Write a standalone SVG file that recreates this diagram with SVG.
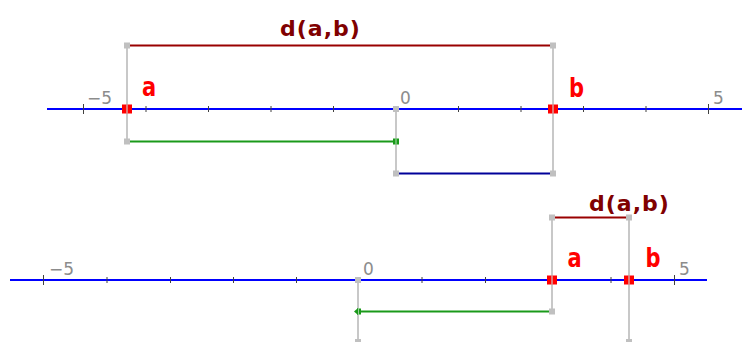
<svg xmlns="http://www.w3.org/2000/svg" width="742" height="342" viewBox="0 0 742 342">
<style>
.axis{stroke:#0000ff;stroke-width:2;fill:none}
.tick{stroke:#404040;stroke-width:1}
.num{font-family:"DejaVu Sans",sans-serif;font-size:17px;fill:#8c8c8c}
.guide{stroke:#c8c8c8;stroke-width:2;fill:none}
.dist{stroke:#990000;stroke-width:2}
.grn{stroke:#1a9a1a;stroke-width:2}
.navy{stroke:#000099;stroke-width:2}
.pt{fill:#c0c0c0}
.red{fill:#ff0000}
.lbl{font-family:"DejaVu Sans",sans-serif;font-weight:bold;font-size:21px;fill:#ff0000}
.dlbl{font-family:"DejaVu Sans",sans-serif;font-weight:bold;font-size:22px;fill:#800000;letter-spacing:1px}
</style>
<rect width="742" height="342" fill="#ffffff"/>

<g id="axis-top">
<line class="axis" x1="47" y1="109" x2="742" y2="109"/>
<path class="tick" d="M83.5 104v10M146 106v6M208.5 106v6M271 106v6M333.5 106v6M458.5 106v6M521 106v6M583.5 106v6M646 106v6M708.5 104v10"/>
<text class="num" x="87" y="104">−5</text>
<text class="num" x="400" y="104">0</text>
<text class="num" x="713" y="104">5</text>
</g>

<g id="axis-bottom">
<line class="axis" x1="10" y1="280" x2="707" y2="280"/>
<path class="tick" d="M43.5 275v10M107 277v6M170.5 277v6M233.5 277v6M296.5 277v6M422 277v6M485.5 277v6M611 277v6M674.5 275v10"/>
<text class="num" x="49" y="275">−5</text>
<text class="num" x="363" y="275">0</text>
<text class="num" x="679" y="275">5</text>
</g>

<g id="connectors">
<line class="guide" x1="127" y1="45.5" x2="127" y2="141.5"/>
<line class="guide" x1="553" y1="45.5" x2="553" y2="173.5"/>
<line class="guide" x1="396" y1="109" x2="396" y2="173.5"/>
<line class="dist" x1="127" y1="45.5" x2="553" y2="45.5"/>
<line class="grn" x1="127" y1="141.5" x2="396" y2="141.5"/>
<line class="navy" x1="396" y1="173.5" x2="553" y2="173.5"/>
<line class="guide" x1="552" y1="217.5" x2="552" y2="311.5"/>
<line class="guide" x1="629" y1="217.5" x2="629" y2="342"/>
<line class="guide" x1="358" y1="280" x2="358" y2="342"/>
<line class="dist" x1="552" y1="217.5" x2="629" y2="217.5"/>
<line class="grn" x1="358" y1="311.5" x2="552" y2="311.5"/>
</g>

<g id="points">
<rect class="pt" x="124" y="42.5" width="6" height="6"/>
<rect class="pt" x="550" y="42.5" width="6" height="6"/>
<rect class="pt" x="124" y="138.5" width="6" height="6"/>
<rect class="pt" x="393" y="106" width="6" height="6"/>
<rect class="pt" x="393" y="170.5" width="6" height="6"/>
<rect class="pt" x="550" y="170.5" width="6" height="6"/>
<rect class="pt" x="549" y="214.5" width="6" height="6"/>
<rect class="pt" x="626" y="214.5" width="6" height="6"/>
<rect class="pt" x="549" y="308.5" width="6" height="6"/>
<rect class="pt" x="355" y="277" width="6" height="6"/>
<rect class="pt" x="626" y="339" width="6" height="6"/>
<rect class="pt" x="355" y="339" width="6" height="6"/>
</g>

<g id="point-a-top">
<rect class="red" x="122" y="104.5" width="10" height="9"/>
<line x1="127" y1="104" x2="127" y2="114" stroke="#d8a0a0" stroke-width="1.5"/>
<text class="lbl" transform="translate(142,96) scale(1,1.3)">a</text>
</g>
<g id="point-b-top">
<rect class="red" x="548" y="104.5" width="10" height="9"/>
<line x1="553" y1="104" x2="553" y2="114" stroke="#d8a0a0" stroke-width="1.5"/>
<text class="lbl" transform="translate(569,96.5) scale(1,1.3)">b</text>
</g>
<g id="zero-mark-top">
<rect x="393" y="138.5" width="6" height="6" fill="#1a9a1a"/>
<line x1="396" y1="138" x2="396" y2="145" stroke="#9ad09a" stroke-width="1.2"/>
</g>
<g id="label-d-top">
<text class="dlbl" x="280" y="36">d(a,b)</text>
</g>

<g id="point-a-bottom">
<rect class="red" x="547" y="275.5" width="10" height="9"/>
<line x1="552" y1="275" x2="552" y2="285" stroke="#d8a0a0" stroke-width="1.5"/>
<text class="lbl" transform="translate(567.5,266.5) scale(1,1.3)">a</text>
</g>
<g id="point-b-bottom">
<rect class="red" x="624" y="275.5" width="10" height="9"/>
<line x1="629" y1="275" x2="629" y2="285" stroke="#d8a0a0" stroke-width="1.5"/>
<text class="lbl" transform="translate(645.5,266.5) scale(1,1.3)">b</text>
</g>
<g id="zero-mark-bottom">
<path d="M354 311.5l4-3.5v7z" fill="#1a9a1a"/>
<rect x="357" y="308.5" width="4" height="6" fill="#1a9a1a"/>
<line x1="358.5" y1="308" x2="358.5" y2="315" stroke="#9ad09a" stroke-width="1"/>
</g>
<g id="label-d-bottom">
<text class="dlbl" x="589" y="211">d(a,b)</text>
</g>
</svg>
